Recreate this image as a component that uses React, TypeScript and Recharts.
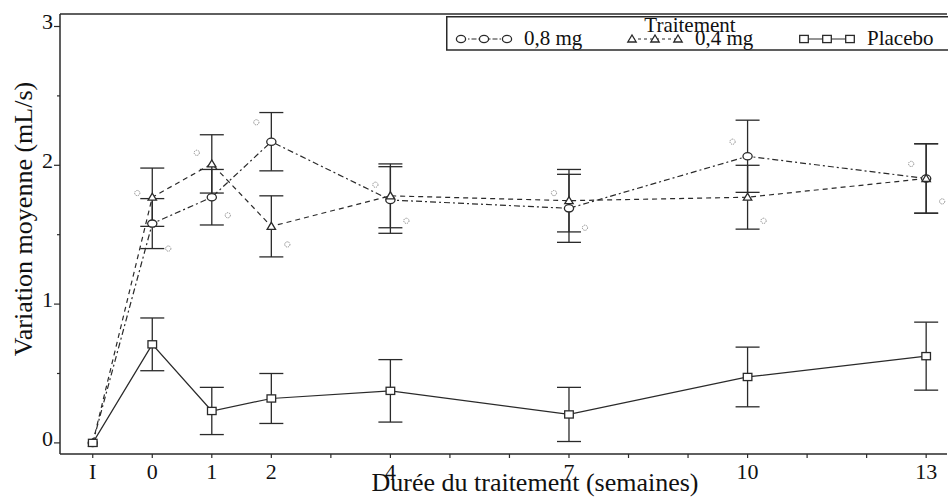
import React from 'react';
import { ComposedChart, Line, XAxis, YAxis, ErrorBar, Legend, ReferenceLine } from 'recharts';

// ---- data ----
const weeks = [-1, 0, 1, 2, 4, 7, 10, 13];
const mg08 = [0, 1.58, 1.77, 2.17, 1.75, 1.69, 2.065, 1.905];
const mg08Err = [0, 0.18, 0.2, 0.21, 0.24, 0.245, 0.26, 0.25];
const mg04 = [0, 1.77, 2.01, 1.56, 1.78, 1.745, 1.77, 1.905];
const mg04Err = [0, 0.21, 0.21, 0.22, 0.23, 0.225, 0.23, 0.25];
const placebo = [0, 0.71, 0.23, 0.32, 0.375, 0.205, 0.475, 0.625];
const placeboErr = [0, 0.19, 0.17, 0.18, 0.225, 0.195, 0.215, 0.245];
const sigUpper = [null, 1.8, 2.09, 2.31, 1.86, 1.8, 2.17, 2.01];
const sigLower = [null, 1.4, 1.64, 1.43, 1.6, 1.55, 1.6, 1.74];

const seriesNames = ['0,8 mg', '0,4 mg', 'Placebo'];
const legendTitle = 'Traitement';

const xTicks = [-1, 0, 1, 2, 3, 4, 5, 6, 7, 8, 9, 10, 11, 12, 13];
const xLabelValues = [-1, 0, 1, 2, 4, 7, 10, 13];
const xLabelTexts = ['I', '0', '1', '2', '4', '7', '10', '13'];
const yTicks = [0, 0.5, 1, 1.5, 2, 2.5, 3];
const yLabelValues = [0, 1, 2, 3];
const X_DOMAIN = [-1.55, 13.35];
const Y_DOMAIN = [-0.08, 3.09];

const xTitle = 'Durée du traitement (semaines)';
const yTitle = 'Variation moyenne (mL/s)';

const data = weeks.map((w, i) => ({
  x: w,
  mg08: mg08[i],
  mg08Err: mg08Err[i],
  mg04: mg04[i],
  mg04Err: mg04Err[i],
  placebo: placebo[i],
  placeboErr: placeboErr[i],
  sigU: sigUpper[i],
  sigL: sigLower[i],
}));

const FONT = '"Liberation Serif", "DejaVu Serif", serif';
const INK = '#2a2a2a';

const CircleMark = ({ cx, cy }: any) => (
  <ellipse cx={cx} cy={cy} rx={4.6} ry={3.6} fill="#fff" stroke={INK} strokeWidth={1.3} />
);
const TriMark = ({ cx, cy }: any) => (
  <path d={`M${cx - 4.2},${cy + 3} L${cx + 4.2},${cy + 3} L${cx},${cy - 4} Z`} fill="#fff" stroke={INK} strokeWidth={1.3} />
);
const SquareMark = ({ cx, cy }: any) => (
  <rect x={cx - 4.3} y={cy - 3.6} width={8.6} height={7.2} fill="#fff" stroke={INK} strokeWidth={1.3} />
);

const makeDot = (Mark: any) => (props: any) => {
  const { cx, cy, index } = props;
  if (cx == null || cy == null) return <g key={`d${index}`} />;
  return <g key={`d${index}`}><Mark cx={cx} cy={cy} /></g>;
};

const makeSig = (dx: number) => (props: any) => {
  const { cx, cy, index, value } = props;
  if (cx == null || cy == null || value == null) return <g key={`s${index}`} />;
  return (
    <g key={`s${index}`}>
      <circle cx={cx + dx} cy={cy} r={2.6} fill="none" stroke="#8a8a8a" strokeWidth={1} strokeDasharray="1.3 0.9" />
    </g>
  );
};

const XTick = (props: any) => {
  const { x, y, payload } = props;
  const i = xLabelValues.indexOf(payload.value);
  return (
    <g>
      <line x1={x} x2={x} y1={y} y2={y + 4} stroke={INK} strokeWidth={1.2} />
      {i >= 0 && (
        <text x={x} y={y + 25} textAnchor="middle" fontFamily={FONT} fontSize={22} fill="#111">
          {xLabelTexts[i]}
        </text>
      )}
    </g>
  );
};

const YTick = (props: any) => {
  const { x, y, payload } = props;
  const major = yLabelValues.indexOf(payload.value) >= 0;
  return (
    <g>
      <line x1={x - (major ? 6 : 3)} x2={x} y1={y} y2={y} stroke={INK} strokeWidth={1.2} />
      {major && (
        <text x={x - 7} y={y + 3} textAnchor="end" fontFamily={FONT} fontSize={22} fill="#111">
          {payload.value}
        </text>
      )}
    </g>
  );
};

const YTitle = (props: any) => {
  const vb = props.viewBox || { x: 0, y: 14, width: 60, height: 440 };
  const cx = vb.x + 32;
  const cy = vb.y + vb.height / 2 - 15;
  return (
    <text x={cx} y={cy} transform={`rotate(-90, ${cx}, ${cy})`} textAnchor="middle" fontFamily={FONT} fontSize={26} fill="#111">
      {yTitle}
    </text>
  );
};

const XTitle = (props: any) => {
  const vb = props.viewBox || { x: 60, y: 454, width: 887, height: 43 };
  return (
    <text x={535} y={vb.y + 37} textAnchor="middle" fontFamily={FONT} fontSize={26} fill="#111">
      {xTitle}
    </text>
  );
};

const slotStarts = [0, 171, 343];

const LegendContent = (props: any) => {
  const payload = (props.payload || []).filter((p: any) => seriesNames.indexOf(p.value) >= 0);
  const marks = [CircleMark, TriMark, SquareMark];
  const dashes = ['5 2 1.5 2', '3 3', undefined];
  return (
    <svg width={510} height={38} style={{ display: 'block', overflow: 'visible' }}>
      <line x1={0.75} y1={0} x2={0.75} y2={34} stroke={INK} strokeWidth={1.5} />
      <line x1={0} y1={0.75} x2={510} y2={0.75} stroke={INK} strokeWidth={1.5} />
      <line x1={0} y1={34} x2={510} y2={34} stroke={INK} strokeWidth={1.5} />
      <text x={244} y={16} textAnchor="middle" fontFamily={FONT} fontSize={21} fill="#111">
        {legendTitle}
      </text>
      {payload.map((p: any) => {
        const k = seriesNames.indexOf(p.value);
        const s = slotStarts[k];
        const M = marks[k];
        const xs = [s + 15, s + 38, s + 61];
        return (
          <g key={p.value}>
            <line x1={xs[0]} x2={xs[2]} y1={23} y2={23} stroke={INK} strokeWidth={1.1} strokeDasharray={dashes[k]} />
            {xs.map((xx, j) => (
              <M key={j} cx={xx} cy={23} />
            ))}
            <text x={s + 78} y={29} fontFamily={FONT} fontSize={21} fill="#111">
              {p.value}
            </text>
          </g>
        );
      })}
    </svg>
  );
};

export default function App() {
  return (
    <div style={{ position: 'absolute', left: 0, top: 0, width: 948, height: 497, overflow: 'hidden', background: '#fff' }}>
      <ComposedChart width={948} height={497} data={data} margin={{ top: 14, right: 1, bottom: 0, left: 0 }}>
        <XAxis
          dataKey="x"
          type="number"
          domain={X_DOMAIN}
          ticks={xTicks}
          interval={0}
          allowDataOverflow
          height={43}
          tickSize={0}
          tickMargin={0}
          tickLine={false}
          tick={<XTick />}
          axisLine={{ stroke: INK, strokeWidth: 1.5 }}
          label={<XTitle />}
        />
        <YAxis
          type="number"
          domain={Y_DOMAIN}
          ticks={yTicks}
          interval={0}
          allowDataOverflow
          width={60}
          tickSize={0}
          tickMargin={0}
          tickLine={false}
          tick={<YTick />}
          axisLine={{ stroke: INK, strokeWidth: 1.5 }}
          label={<YTitle />}
        />
        <ReferenceLine y={Y_DOMAIN[1]} stroke={INK} strokeWidth={1.5} />
        <Legend
          layout="horizontal"
          verticalAlign="middle"
          align="center"
          content={<LegendContent />}
          wrapperStyle={{ left: 446, top: 16, width: 510, height: 38, margin: 0 }}
        />
        <Line
          dataKey="mg08"
          name={seriesNames[0]}
          stroke={INK}
          strokeWidth={1.2}
          strokeDasharray="6 3 2 3"
          dot={makeDot(CircleMark)}
          activeDot={false}
          isAnimationActive={false}
        >
          <ErrorBar dataKey="mg08Err" width={12} stroke={INK} strokeWidth={1.3} direction="y" isAnimationActive={false} />
        </Line>
        <Line
          dataKey="mg04"
          name={seriesNames[1]}
          stroke={INK}
          strokeWidth={1.2}
          strokeDasharray="5 4"
          dot={makeDot(TriMark)}
          activeDot={false}
          isAnimationActive={false}
        >
          <ErrorBar dataKey="mg04Err" width={12} stroke={INK} strokeWidth={1.3} direction="y" isAnimationActive={false} />
        </Line>
        <Line
          dataKey="placebo"
          name={seriesNames[2]}
          stroke={INK}
          strokeWidth={1.2}
          dot={makeDot(SquareMark)}
          activeDot={false}
          isAnimationActive={false}
        >
          <ErrorBar dataKey="placeboErr" width={12} stroke={INK} strokeWidth={1.3} direction="y" isAnimationActive={false} />
        </Line>
        <Line dataKey="sigU" stroke="none" legendType="none" dot={makeSig(-15)} activeDot={false} isAnimationActive={false} />
        <Line dataKey="sigL" stroke="none" legendType="none" dot={makeSig(16)} activeDot={false} isAnimationActive={false} />
      </ComposedChart>
    </div>
  );
}
